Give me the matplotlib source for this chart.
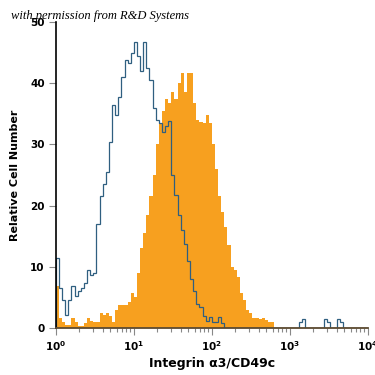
import numpy as np
import matplotlib.pyplot as plt
from matplotlib.ticker import LogLocator

plt.rcParams['font.family'] = ['Liberation Sans Narrow', 'DejaVu Sans']
plt.rcParams['mathtext.default'] = 'regular'

# 100 channels over 4 decades (10^0 .. 10^4)
n_bins = 100
edges = 10 ** np.linspace(0, 4, n_bins + 1)

# isotype control (outline)
control = [11.5, 6.5, 4.5, 2.2, 4.5, 6.8, 5.2, 6.0, 6.5, 7.3,
           9.5, 8.6, 9.0, 17.0, 21.5, 23.5, 25.5, 30.4, 36.5, 34.8,
           37.8, 41.0, 43.8, 43.3, 45.0, 46.8, 44.5, 42.0, 46.8, 42.5,
           40.5, 36.0, 34.0, 33.5, 32.0, 33.0, 33.8, 25.0, 21.8, 18.5,
           16.0, 13.8, 11.0, 8.0, 6.0, 4.0, 3.5, 2.0, 1.2, 1.8,
           1.0, 1.0, 1.8, 0.8, 0, 0, 0, 0, 0, 0,
           0, 0, 0, 0, 0, 0, 0, 0, 0, 0,
           0, 0, 0, 0, 0, 0, 0, 0, 1.0, 1.5,
           0, 0, 0, 0, 0, 0, 1.5, 1.0, 0, 0,
           1.5, 1.0, 0, 0, 0, 0, 0, 0, 0, 0]

# Integrin a3 / CD49c stained (filled)
stained = [6.8, 1.6, 1.0, 0.5, 0.5, 1.6, 1.0, 0.4, 0.3, 0.8,
           1.7, 1.2, 1.0, 1.0, 2.4, 2.2, 2.5, 1.9, 1.0, 3.0,
           3.8, 3.8, 3.8, 4.3, 5.7, 5.0, 9.0, 13.0, 15.5, 18.5,
           21.5, 25.0, 30.0, 33.5, 35.5, 37.5, 36.8, 38.6, 37.5, 40.0,
           41.6, 38.5, 41.6, 41.6, 36.8, 34.0, 33.7, 33.5, 34.8, 33.5,
           30.0, 26.0, 21.5, 19.0, 16.5, 13.5, 10.0, 9.5, 8.4, 5.7,
           4.5, 3.0, 2.5, 1.6, 1.6, 1.4, 1.6, 1.3, 1.0, 1.0,
           0, 0, 0, 0, 0, 0, 0, 0, 0, 0,
           0, 0, 0, 0, 0, 0, 0, 0, 0, 0,
           0, 0, 0, 0, 0, 0, 0, 0, 0, 0]

fig = plt.figure(figsize=(3.75, 3.75), dpi=100)
ax = fig.add_axes([0.149, 0.1253, 0.832, 0.816])

ax.stairs(stained, edges, fill=True, color='#f7a01f', lw=0)
ax.stairs(control, edges, color='#2f5f80', lw=0.9)

ax.set_xscale('log')
ax.set_xlim(1, 1e4)
ax.set_ylim(0, 50)
ax.set_yticks([0, 10, 20, 30, 40, 50])
ax.xaxis.set_minor_locator(LogLocator(base=10, subs=np.arange(2, 10)))

for s in ['top', 'right']:
    ax.spines[s].set_visible(False)
ax.spines['left'].set_linewidth(1.2)
ax.spines['left'].set_color('black')
ax.spines['bottom'].set_linewidth(1.3)
ax.spines['bottom'].set_color('#5c4a30')

ax.tick_params(axis='both', which='major', length=5, width=0.8, color='#888888',
               labelsize=7.5, pad=3)
ax.tick_params(axis='x', which='minor', length=3, width=0.8, color='#888888')
for lab in ax.get_xticklabels() + ax.get_yticklabels():
    lab.set_fontweight('bold')

ax.set_xlabel('Integrin α3/CD49c', fontsize=9, fontweight='bold', labelpad=3)
ax.set_ylabel('Relative Cell Number', fontsize=8, fontweight='bold', labelpad=7)

fig.text(0.03, 0.958, 'with permission from R&D Systems', fontsize=9,
         family='Liberation Serif', style='italic', va='center', ha='left')

fig.savefig('out.png', dpi=100)
